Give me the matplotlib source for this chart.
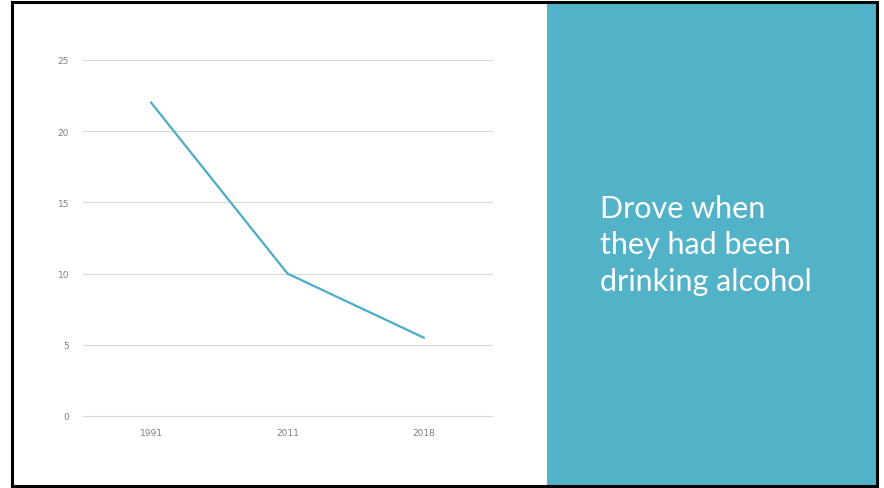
import matplotlib.pyplot as plt
from matplotlib.patches import Rectangle

years = ['1991', '2011', '2018']
values = [22, 10, 5.5]
yticks = [0, 5, 10, 15, 20, 25]
title_lines = ['Drove when', 'they had been', 'drinking alcohol']

teal = '#52B3C8'
line_col = '#4BACC6'

W, H = 884, 489
fig = plt.figure(figsize=(W / 100, H / 100), dpi=100)

# slide background panels and frame
fig.patches.append(Rectangle((547 / W, 2 / H), 330 / W, 485 / H,
                             transform=fig.transFigure, facecolor=teal,
                             edgecolor='none', zorder=0))
fig.patches.append(Rectangle((12 / W, 2 / H), 865 / W, 484 / H,
                             transform=fig.transFigure, facecolor='none',
                             edgecolor='black', linewidth=2.2, zorder=5))

ax = fig.add_axes([83 / W, (H - 417) / H, (492 - 83) / W, (417 - 61) / H])
x = range(len(years))
ax.plot(x, values, color=line_col, linewidth=1.6)
ax.set_xlim(-0.5, len(years) - 0.5)
ax.set_ylim(0, 25)
ax.set_xticks(list(x))
ax.set_xticklabels(years)
ax.set_yticks(yticks)
ax.grid(axis='y', color='#D9D9D9', linewidth=0.8)
ax.set_axisbelow(True)
for g in ax.get_ygridlines():
    g.set_clip_on(False)
for s in ax.spines.values():
    s.set_visible(False)
ax.tick_params(length=0, labelsize=6.5, colors='#7F7F7F')
ax.tick_params(axis='x', pad=9)
ax.tick_params(axis='y', pad=10)

# one text per line so the baselines sit where we want them
for i, line in enumerate(title_lines):
    fig.text(600 / W, 1 - (218 + 36.5 * i) / H, line, color='white',
             fontsize=22, family='Lato', va='baseline', ha='left')

plt.savefig('out.png', dpi=100)
